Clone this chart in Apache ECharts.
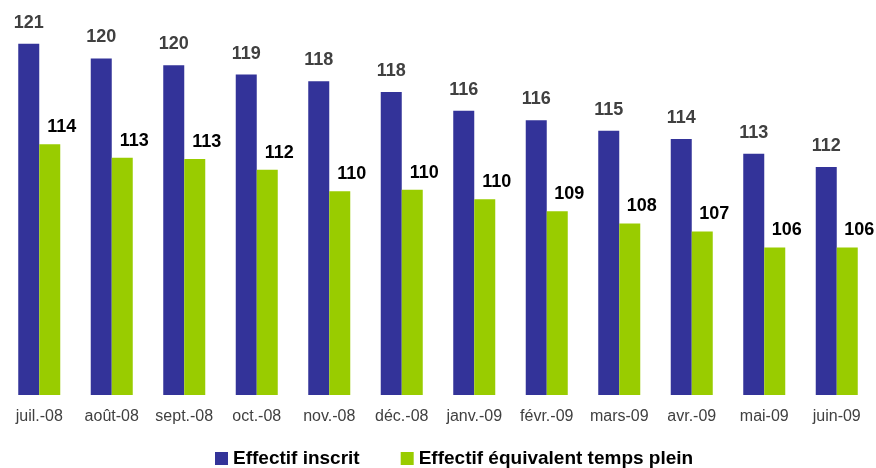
<!DOCTYPE html>
<html>
<head>
<meta charset="utf-8">
<script src="https://cdn.jsdelivr.net/npm/echarts@6/dist/echarts.min.js"></script>
<style>
  html, body { margin: 0; padding: 0; background: #fff; }
  #chart { width: 876px; height: 468px; }
</style>
</head>
<body>
<div id="chart"></div>
<script>
// months shown on the x axis
const months = ['juil.-08', 'août-08', 'sept.-08', 'oct.-08', 'nov.-08', 'déc.-08',
  'janv.-09', 'févr.-09', 'mars-09', 'avr.-09', 'mai-09', 'juin-09']

// values (labels are rounded)
const inscrit = [121.2, 120.1, 119.6, 118.9, 118.4, 117.6, 116.2, 115.5, 114.7, 114.1, 113.0, 112.0]
const etp = [113.7, 112.7, 112.6, 111.8, 110.2, 110.3, 109.6, 108.7, 107.8, 107.2, 106.0, 106.0]

const seriesNames = ['Effectif inscrit', 'Effectif équivalent temps plein']

const font = '"Liberation Sans", Arial, sans-serif'
const chart = echarts.init(document.getElementById('chart'), undefined, { renderer: 'canvas' })

chart.setOption({
  animation: false,
  textStyle: { fontFamily: font },
  grid: { left: 3, right: 3, top: 33, bottom: 73 },
  legend: {
    left: 210,
    top: 444,
    itemWidth: 13,
    itemHeight: 13,
    itemGap: 41,
    icon: 'rect',
    textStyle: { fontFamily: font, fontSize: 19, fontWeight: 'bold', color: '#000' },
    data: seriesNames
  },
  xAxis: {
    type: 'category',
    data: months,
    axisLine: { show: false },
    axisTick: { show: false },
    axisLabel: { color: '#404040', fontSize: 16, margin: 14, fontFamily: font, interval: 0 }
  },
  yAxis: {
    type: 'value',
    min: 95,
    max: 122,
    show: false,
    splitLine: { show: false }
  },
  series: [
    {
      name: seriesNames[0],
      type: 'bar',
      data: inscrit,
      barWidth: 21,
      barGap: '0%',
      itemStyle: { color: '#333399' },
      label: {
        show: true,
        position: 'top',
        distance: 12,
        color: '#404040',
        fontSize: 18,
        fontWeight: 'bold',
        fontFamily: font,
        formatter: (p) => Math.round(p.value)
      }
    },
    {
      name: seriesNames[1],
      type: 'bar',
      data: etp,
      barWidth: 21,
      itemStyle: { color: '#99cc00' },
      label: {
        show: true,
        position: 'top',
        distance: 8,
        offset: [12, 0],
        color: '#000',
        fontSize: 18,
        fontWeight: 'bold',
        fontFamily: font,
        formatter: (p) => Math.round(p.value)
      }
    }
  ]
})
</script>
</body>
</html>
